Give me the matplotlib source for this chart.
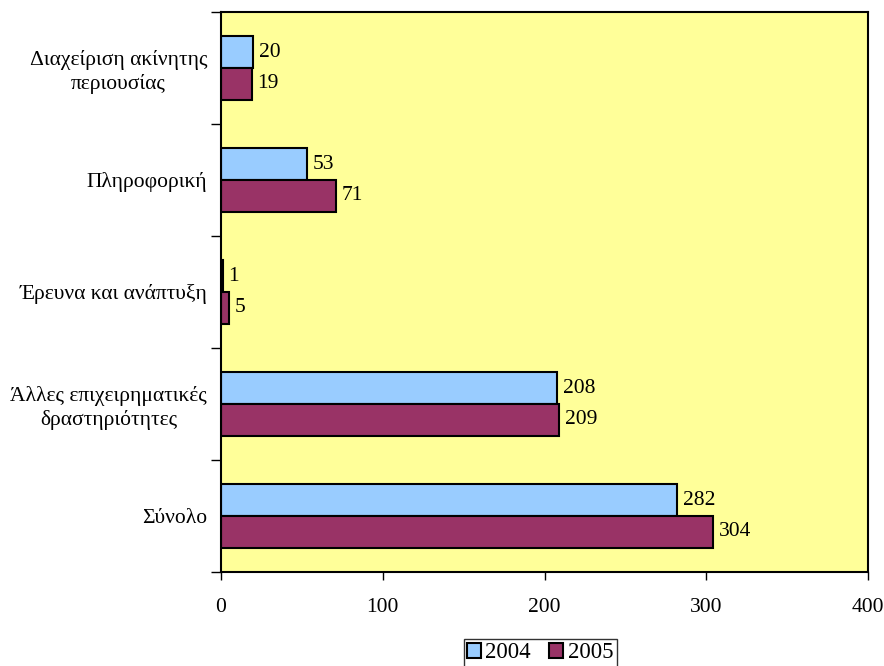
import matplotlib
matplotlib.use("Agg")
import matplotlib.pyplot as plt
import numpy as np

plt.rcParams['font.family'] = ['Liberation Serif', 'DejaVu Serif']

categories = ["Διαχείριση ακίνητης\nπεριουσίας", "Πληροφορική", "Έρευνα και ανάπτυξη",
              "Άλλες επιχειρηματικές\nδραστηριότητες", "Σύνολο"]
v2004 = [20, 53, 1, 208, 282]
v2005 = [19, 71, 5, 209, 304]
series_labels = ["2004", "2005"]
xticks = [0, 100, 200, 300, 400]

c2004 = "#99CCFF"
c2005 = "#993366"

fs = 15.5

fig = plt.figure(figsize=(8.84, 6.66), dpi=100)
ax = fig.add_axes([221/884, 1-572/666, (868-221)/884, (572-12)/666])
ax.set_facecolor("#FFFF99")

n = len(categories)
y = np.arange(n)
h = 0.285
b1 = ax.barh(y - h/2, v2004, height=h, color=c2004, edgecolor="black", linewidth=1.5, label=series_labels[0])
b2 = ax.barh(y + h/2, v2005, height=h, color=c2005, edgecolor="black", linewidth=1.5, label=series_labels[1])

for bars, vals in ((b1, v2004), (b2, v2005)):
    for rect, v in zip(bars, vals):
        ax.text(v + 3.5, rect.get_y() + rect.get_height()/2, str(v), va='center', ha='left', fontsize=fs)

ax.set_xlim(0, 400)
ax.set_ylim(n - 0.5, -0.5)
ax.set_xticks(xticks)
ax.set_xticklabels([str(t) for t in xticks], fontsize=fs)
ax.tick_params(axis='x', direction='out', length=6, width=1, pad=13)

ax.set_yticks(np.arange(-0.5, n, 1.0))
ax.set_yticklabels([])
ax.set_yticks(y, minor=True)
ax.set_yticklabels(categories, minor=True, fontsize=fs, multialignment='center')
ax.tick_params(axis='y', which='major', direction='out', length=7, width=1)
ax.tick_params(axis='y', which='minor', length=0, pad=10)

for s in ax.spines.values():
    s.set_linewidth(1.5)
    s.set_color("black")

leg = fig.legend(handles=[b1, b2], labels=series_labels, loc='center', bbox_to_anchor=(540/884, 1-653/666),
                 ncol=2, fontsize=16.5, frameon=True, fancybox=False, edgecolor='black',
                 handlelength=0.6, handleheight=0.6, handletextpad=0.2, columnspacing=0.8,
                 borderpad=0.15, borderaxespad=0)
leg.get_frame().set_linewidth(1.0)

fig.savefig("out.png", dpi=100)
